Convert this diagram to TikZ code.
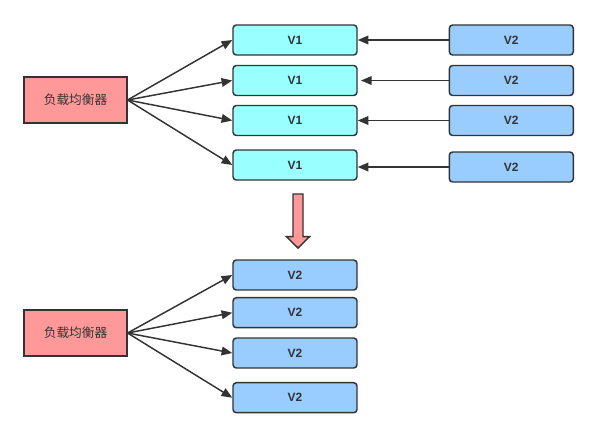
\documentclass[tikz,border=0pt]{standalone}
\usepackage{fontspec}
\setmainfont{Liberation Sans}
\newfontfamily\cjk{Noto Sans CJK SC}
\usepackage{tikz}
\usetikzlibrary{arrows.meta}
\usetikzlibrary{positioning}

\definecolor{lbred}{HTML}{FF9999}
\definecolor{vcyan}{HTML}{99FFFF}
\definecolor{vblue}{HTML}{99CCFF}
\definecolor{edge}{HTML}{333333}

\begin{document}
\begin{tikzpicture}[x=0.75pt,y=-0.75pt,
    lb/.style={draw=edge,line width=1.1pt,fill=lbred,minimum width=77pt,minimum height=34.5pt,
      font=\cjk\fontsize{9.5}{11}\selectfont,text=edge},
    ver/.style={draw=edge,line width=1.1pt,rounded corners=2.5pt,minimum width=93pt,minimum height=22.5pt,
      font=\bfseries\fontsize{9}{11}\selectfont,text=edge},
    vone/.style={ver,fill=vcyan},
    vtwo/.style={ver,fill=vblue},
    link/.style={draw=edge,line width=1.1pt,-{Triangle[length=8pt,width=6.5pt]}}]
   \useasboundingbox (0,0) rectangle (598,437);
   % before the switch
   \node[lb] (lbA) at (75.5,100) {负载均衡器};
   \node[vone] (a1) at (295,40) {V1};
   \node[vone] (a2) at (295,80.5) {V1};
   \node[vone] (a3) at (295,120.5) {V1};
   \node[vone] (a4) at (295,165) {V1};
   \node[vtwo] (b1) at (511.3,40) {V2};
   \node[vtwo] (b2) at (511.3,80.5) {V2};
   \node[vtwo] (b3) at (511.3,120.5) {V2};
   \node[vtwo] (b4) at (511.3,167) {V2};
   \coordinate (b2end) at (361,80.5);
   \foreach \i in {1,...,4}
     \draw[link] (lbA.east) -- (a\i.west);
   \draw[link] (b1.west) -- (a1.east);
   \draw[link] (b2.west) -- (b2end);
   \draw[link] (b3.west) -- (a3.east);
   \draw[link] (b4.west) -- (a4.east |- b4.west);
   % switch arrow
   \draw[draw=edge,line width=1.1pt,fill=lbred,line join=miter]
     (293,194) -- (303,194) -- (303,236.7) -- (309.5,236.7) -- (298,248)
     -- (286.5,236.7) -- (293,236.7) -- cycle;
   % after the switch
   \node[lb] (lbB) at (75.5,333) {负载均衡器};
   \node[vtwo] (c1) at (295,275) {V2};
   \node[vtwo] (c2) at (295,312.7) {V2};
   \node[vtwo] (c3) at (295,353) {V2};
   \node[vtwo] (c4) at (295,397.7) {V2};
   \foreach \i in {1,...,4}
     \draw[link] (lbB.east) -- (c\i.west);
\end{tikzpicture}
\end{document}
